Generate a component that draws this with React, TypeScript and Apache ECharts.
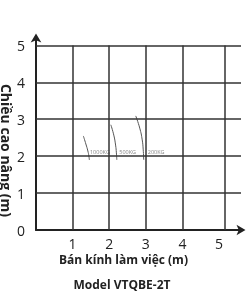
import React, { useEffect, useRef } from 'react';
import * as echarts from 'echarts';

const yAxisName = 'Chiều cao nâng (m)';
const xAxisName = 'Bán kính làm việc (m)';
const modelTitle = 'Model VTQBE-2T';

const verticalGridX = [1, 2, 3, 4, 5.15];
const horizontalGridY = [1, 2, 3, 4, 5];

const curve1000: number[][] = [[1.294, 2.547], [1.362, 2.33], [1.417, 2.14], [1.444, 2.005], [1.458, 1.897]];
const curve500: number[][] = [[2.044, 2.85], [2.125, 2.57], [2.174, 2.3], [2.196, 2.09], [2.207, 1.9]];
const curve200: number[][] = [[2.725, 3.09], [2.834, 2.76], [2.902, 2.44], [2.929, 2.17], [2.943, 1.9]];

const loadNames = ['1000KG', '500KG', '200KG'];
const loadLabelX = [1.46, 2.26, 3.04];
const loadLabelY = [2.11, 2.11, 2.11];

const FONT = "'Open Sans', sans-serif";

export default function App() {
  const ref = useRef<HTMLDivElement>(null);
  useEffect(() => {
    if (!ref.current) return;
    const chart = echarts.init(ref.current, null, { renderer: 'svg' });
    const curveStyle = { color: '#555', width: 1 };
    const gridLines = [
      ...verticalGridX.map((x) => [{ coord: [x, 0] }, { coord: [x, 5] }]),
      ...horizontalGridY.map((y) => [{ coord: [0, y] }, { coord: [5.6, y] }]),
    ];
    const titleStyle = { fontFamily: FONT, fontWeight: 'bold', fill: '#222', textAlign: 'center', textVerticalAlign: 'middle' };
    chart.setOption({
      animation: false,
      textStyle: { fontFamily: FONT },
      grid: { left: 36, top: 38, width: 205, height: 192, containLabel: false, outerBoundsMode: 'none' },
      xAxis: {
        type: 'value',
        min: 0,
        max: 5.6,
        interval: 1,
        axisLine: {
          show: true,
          lineStyle: { color: '#222', width: 2 },
          symbol: ['none', 'arrow'],
          symbolSize: [8, 9],
          symbolOffset: [0, 4.5],
        },
        axisTick: { show: false },
        splitLine: { show: false },
        axisLabel: {
          margin: 7,
          fontSize: 14,
          lineHeight: 13,
          color: '#222',
          fontFamily: FONT,
          formatter: (v: number) => (v > 0 && Number.isInteger(v) ? String(v) : ''),
        },
      },
      yAxis: {
        type: 'value',
        min: 0,
        max: 5.2,
        interval: 1,
        axisLine: {
          show: true,
          lineStyle: { color: '#222', width: 2 },
          symbol: ['none', 'arrow'],
          symbolSize: [8, 9],
          symbolOffset: [0, 4.5],
        },
        axisTick: { show: false },
        splitLine: { show: false },
        axisLabel: {
          margin: 11,
          fontSize: 14,
          lineHeight: 14,
          color: '#222',
          fontFamily: FONT,
          formatter: (v: number) => (Number.isInteger(v) && v <= 5 ? String(v) : ''),
        },
      },
      graphic: [
        {
          type: 'text',
          x: 123.5,
          y: 259,
          style: { ...titleStyle, text: xAxisName, fontSize: 12, lineHeight: 12 },
        },
        {
          type: 'text',
          x: 122,
          y: 284,
          style: { ...titleStyle, text: modelTitle, fontSize: 12, lineHeight: 12 },
        },
        {
          type: 'text',
          x: 6.5,
          y: 150.5,
          rotation: -Math.PI / 2,
          style: { ...titleStyle, text: yAxisName, fontSize: 14, lineHeight: 13 },
        },
      ],
      series: [
        {
          type: 'line',
          data: curve1000,
          smooth: true,
          symbol: 'none',
          lineStyle: curveStyle,
          silent: true,
          markLine: {
            silent: true,
            symbol: ['none', 'none'],
            label: { show: false },
            lineStyle: { color: '#333', width: 1.5, type: 'solid' },
            data: gridLines,
          },
        },
        { type: 'line', data: curve500, smooth: true, symbol: 'none', lineStyle: curveStyle, silent: true },
        { type: 'line', data: curve200, smooth: true, symbol: 'none', lineStyle: curveStyle, silent: true },
        {
          type: 'scatter',
          symbolSize: 1,
          itemStyle: { color: 'rgba(0,0,0,0)' },
          silent: true,
          data: loadNames.map((n, i) => [loadLabelX[i], loadLabelY[i], n]),
          label: {
            show: true,
            position: 'right',
            distance: 0,
            formatter: (p: any) => p.value[2],
            fontSize: 5.5,
            color: '#666',
            fontFamily: FONT,
          },
          labelLayout: { hideOverlap: false },
        },
      ],
    });
    return () => chart.dispose();
  }, []);
  return <div ref={ref} style={{ position: 'fixed', left: 0, top: 0, width: 247, height: 296 }} />;
}
